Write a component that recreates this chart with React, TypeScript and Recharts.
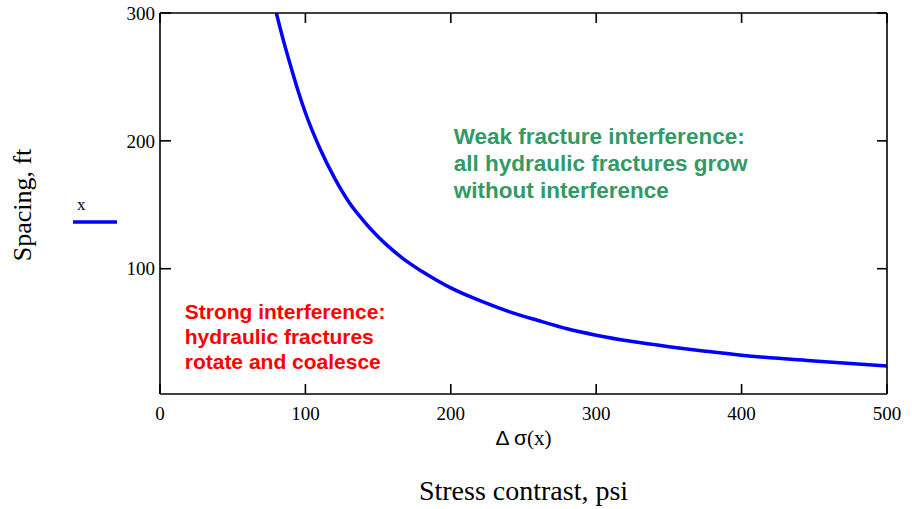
import { LineChart, Line, XAxis, YAxis, Legend, Label, ReferenceDot } from "recharts";

// stress contrast (psi) vs. fracture spacing (ft)
const stressPsi = [80, 85, 90, 95, 100, 110, 120, 130, 140, 150, 160, 170, 180, 190, 200, 220, 240, 260, 280, 300, 325, 350, 375, 400, 450, 500];
const spacingFt = [300, 278, 258, 239, 222, 194, 171, 152, 137.5, 125, 114.5, 105.5, 98, 91.2, 85, 75, 66.5, 59.5, 53, 48, 43, 39, 35.5, 32.3, 27.8, 23.9];

const xTicks = [0, 100, 200, 300, 400, 500];
const yTicks = [100, 200, 300];

const weakNote = ["Weak fracture interference:", "all hydraulic fractures grow", "without interference"];
const strongNote = ["Strong interference:", "hydraulic fractures", "rotate and coalesce"];

const data = stressPsi.map((s, i) => ({ stress: s, spacing: spacingFt[i] }));

const SERIF = "'Liberation Serif', 'Times New Roman', serif";
const SANS = "'Liberation Sans', Arial, sans-serif";
const BLUE = "#0000ff";

const tickStyle = { fontSize: 19, fontFamily: SERIF, fill: "#000" };
const axisStroke = { stroke: "#000", strokeWidth: 1.6 };

// multi-line note anchored at a data point
const noteLabel = (lines: string[], color: string, size: number, gap: number) => (props: any) => {
  const { x, y } = props.viewBox;
  return (
    <text x={x} y={y} fill={color} fontFamily={SANS} fontWeight="bold" fontSize={size} dominantBaseline="central">
      {lines.map((l, i) => (
        <tspan key={i} x={x} dy={i === 0 ? 0 : gap}>
          {l}
        </tspan>
      ))}
    </text>
  );
};

const TraceLegend = () => (
  <div style={{ width: 50, fontFamily: SERIF, fontSize: 17, lineHeight: "20px" }}>
    <div style={{ paddingLeft: 4 }}>x</div>
    <svg width={46} height={12} style={{ display: "block" }}>
      <line x1={0} y1={7} x2={44} y2={7} stroke={BLUE} strokeWidth={3.5} />
    </svg>
  </div>
);

export default function App() {
  return (
    <div style={{ position: "absolute", left: 0, top: 0, width: 912, height: 509, background: "#fff" }}>
      <LineChart width={912} height={509} data={data} margin={{ top: 12, right: 24, left: 110, bottom: 85 }}>
        <XAxis
          xAxisId="bottom"
          dataKey="stress"
          type="number"
          domain={[0, 500]}
          ticks={xTicks}
          height={30}
          tick={tickStyle}
          tickSize={-10}
          tickMargin={23}
          tickLine={axisStroke}
          axisLine={axisStroke}
          allowDataOverflow
        >
          <Label
            content={(p: any) => {
              const vb = p.viewBox;
              const cx = vb.x + vb.width / 2;
              return (
                <g>
                  <text x={cx} y={vb.y + 51} textAnchor="middle" fontSize={21} fill="#000">
                    <tspan fontFamily={SANS}>Δ σ</tspan>
                    <tspan fontFamily={SERIF}>(x)</tspan>
                  </text>
                  <text x={cx} y={vb.y + 106} textAnchor="middle" fontSize={28} fontFamily={SERIF} fill="#000">
                    Stress contrast, psi
                  </text>
                </g>
              );
            }}
          />
        </XAxis>
        <XAxis
          xAxisId="top"
          orientation="top"
          dataKey="stress"
          type="number"
          domain={[0, 500]}
          ticks={xTicks}
          height={1}
          tick={() => <g />}
          tickSize={-10}
          tickLine={axisStroke}
          axisLine={axisStroke}
          allowDataOverflow
        />
        <YAxis
          yAxisId="left"
          type="number"
          domain={[2, 300]}
          ticks={yTicks}
          width={50}
          tick={tickStyle}
          tickSize={-11}
          tickMargin={16}
          tickLine={axisStroke}
          axisLine={axisStroke}
          allowDataOverflow
        >
          <Label
            content={(p: any) => {
              const vb = p.viewBox;
              const cx = vb.x - 88;
              const cy = 205;
              return (
                <text
                  x={cx}
                  y={cy}
                  transform={`rotate(-90, ${cx}, ${cy})`}
                  textAnchor="middle"
                  dominantBaseline="central"
                  fontSize={26}
                  fontFamily={SERIF}
                  fill="#000"
                >
                  Spacing, ft
                </text>
              );
            }}
          />
        </YAxis>
        <YAxis
          yAxisId="right"
          orientation="right"
          type="number"
          domain={[2, 300]}
          ticks={yTicks}
          width={1}
          tick={() => <g />}
          tickSize={-10}
          tickLine={axisStroke}
          axisLine={axisStroke}
          allowDataOverflow
        />
        <Legend
          layout="vertical"
          align="center"
          verticalAlign="middle"
          content={() => <TraceLegend />}
          wrapperStyle={{ position: "absolute", left: 73, top: 195, width: 50 }}
        />
        <Line
          xAxisId="bottom"
          yAxisId="left"
          type="monotone"
          dataKey="spacing"
          name="x"
          stroke={BLUE}
          strokeWidth={3.5}
          dot={false}
          isAnimationActive={false}
        />
        <ReferenceDot
          xAxisId="bottom"
          yAxisId="left"
          x={202}
          y={204}
          r={0}
          fill="none"
          stroke="none"
          label={noteLabel(weakNote, "#339966", 22.5, 27)}
        />
        <ReferenceDot
          xAxisId="bottom"
          yAxisId="left"
          x={17}
          y={67}
          r={0}
          fill="none"
          stroke="none"
          label={noteLabel(strongNote, "#ff0000", 21, 25)}
        />
      </LineChart>
    </div>
  );
}
